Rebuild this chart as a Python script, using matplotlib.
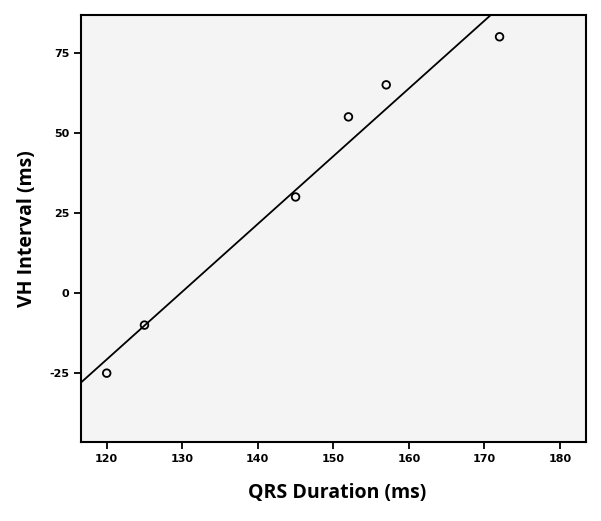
import numpy as np
import matplotlib
matplotlib.use("Agg")
import matplotlib.pyplot as plt

plt.rcParams["axes.unicode_minus"] = False

qrs_duration = [120, 125, 145, 152, 157, 172]
vh_interval = [-25, -10, 30, 55, 65, 80]
x_ticks = [120, 130, 140, 150, 160, 170, 180]
y_ticks = [-25, 0, 25, 50, 75]

fig = plt.figure(figsize=(6.01, 5.21), dpi=100)
ax = fig.add_axes([0.1348, 0.1522, 0.9745 - 0.1348, 0.9712 - 0.1522])
ax.set_facecolor("#f4f4f4")

xlim = (116.6, 183.4)
ylim = (-46.4, 86.8)

slope, intercept = np.polyfit(qrs_duration, vh_interval, 1)
xs = np.array(xlim)
ax.plot(xs, slope * xs + intercept, color="black", lw=1.3, zorder=2)

ax.scatter(qrs_duration, vh_interval, s=30, facecolors="none",
           edgecolors="black", linewidths=1.3, zorder=3)

ax.set_xlim(*xlim)
ax.set_ylim(*ylim)
ax.set_xticks(x_ticks)
ax.set_yticks(y_ticks)
ax.tick_params(direction="out", length=5, width=1.3, labelsize=8, colors="black")
for lab in ax.get_xticklabels() + ax.get_yticklabels():
    lab.set_fontweight("bold")
for s in ax.spines.values():
    s.set_linewidth(1.5)

ax.set_xlabel("QRS Duration (ms)", fontsize=14, fontweight="bold",
              family=["Open Sans", "DejaVu Sans"])
ax.set_ylabel("VH Interval (ms)", fontsize=14, fontweight="bold",
              family=["Open Sans", "DejaVu Sans"])
ax.xaxis.label.set_va("center")
ax.yaxis.label.set_va("center")
ax.xaxis.set_label_coords(0.507, -0.12)
ax.yaxis.set_label_coords(-0.107, 0.5)

fig.savefig("out.png", dpi=100)
